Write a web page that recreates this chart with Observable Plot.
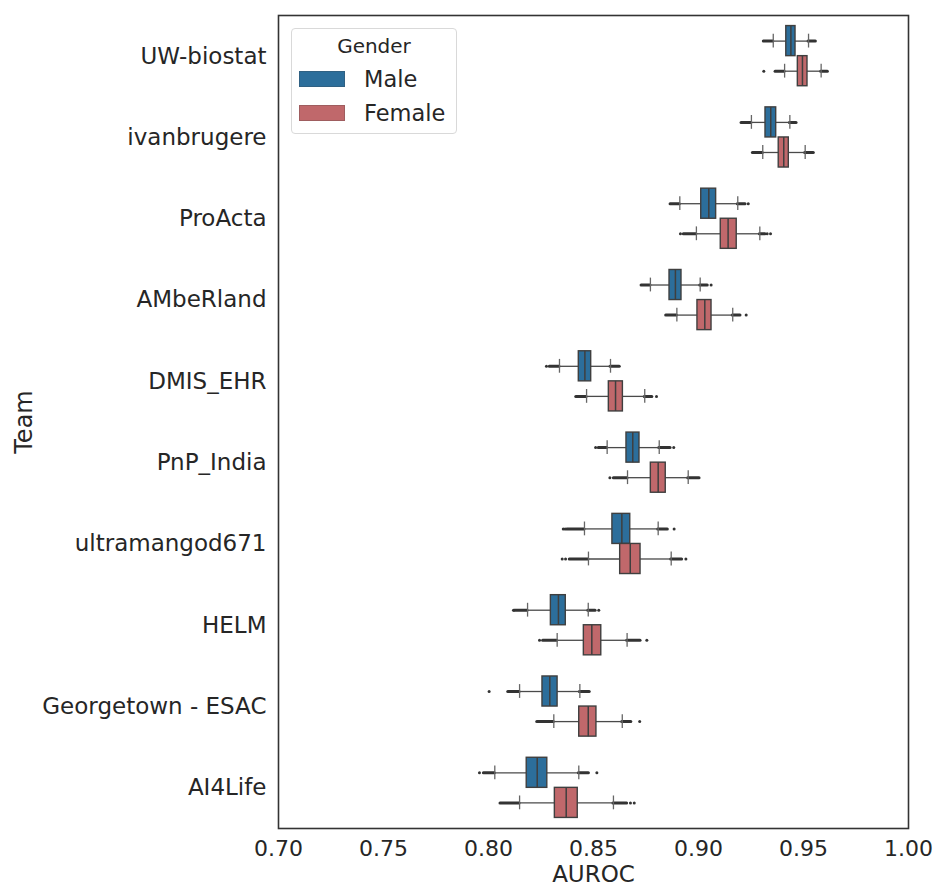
<!DOCTYPE html>
<html>
<head>
<meta charset="utf-8">
<script src="https://cdn.jsdelivr.net/npm/d3@7"></script>
<script src="https://cdn.jsdelivr.net/npm/@observablehq/plot@0.6"></script>
<style>
  html, body { margin: 0; padding: 0; background: #fff; }
  #wrap { position: relative; width: 938px; height: 890px; font-family: "DejaVu Sans", sans-serif; color: #262626; }
  #legend { position: absolute; left: 291px; top: 28px; width: 166px; height: 106px; border: 1px solid #d9d9d9; border-radius: 4px; background: rgba(255,255,255,0.85); box-sizing: border-box; }
  #legend .title { position: absolute; left: 0; width: 100%; top: 5px; text-align: center; font-size: 20px; line-height: 24px; }
  #legend .row { position: absolute; left: 7px; height: 24px; display: flex; align-items: center; font-size: 22.5px; }
  #legend .sw { width: 46px; height: 16px; margin-right: 19px; box-sizing: border-box; border: 1px solid rgba(60,60,60,0.25); }
</style>
</head>
<body>
<div id="wrap"></div>
<script>
const teams = ["UW-biostat","ivanbrugere","ProActa","AMbeRland","DMIS_EHR","PnP_India","ultramangod671","HELM","Georgetown - ESAC","AI4Life"];
const genders = ["Male","Female"];
const genderColors = ["#2c6e9b","#c0686b"];
const xTicks = [0.70,0.75,0.80,0.85,0.90,0.95,1.00];

// per box, team order, Male then Female
const q1       = [.9418,.9473, .9319,.9382, .9013,.9106, .8862,.8995, .8430,.8573, .8657,.8773, .8590,.8627, .8297,.8454, .8257,.8432, .8182,.8316];
const median   = [.9440,.9495, .9344,.9406, .9049,.9141, .8890,.9030, .8459,.8605, .8687,.8808, .8635,.8675, .8333,.8492, .8292,.8475, .8232,.8370];
const q3       = [.9462,.9519, .9370,.9430, .9084,.9182, .8919,.9062, .8489,.8640, .8719,.8844, .8675,.8724, .8368,.8537, .8329,.8514, .8280,.8425];
const whiskerLo= [.9356,.9410, .9252,.9306, .8911,.8990, .8771,.8897, .8338,.8467, .8565,.8662, .8457,.8476, .8186,.8327, .8148,.8311, .8030,.8148];
const whiskerHi= [.9524,.9584, .9435,.9508, .9187,.9292, .9008,.9163, .8581,.8744, .8813,.8951, .8808,.8870, .8475,.8660, .8435,.8637, .8430,.8595];
const denseLo  = [.9311,.9367, .9205,.9259, .8867,.8930, .8729,.8846, .8292,.8418, .8525,.8597, .8375,.8387, .8125,.8260, .8094,.8232, .7978,.8057];
const denseHi  = [.9559,.9616, .9467,.9549, .9224,.9319, .9044,.9200, .8625,.8780, .8867,.9005, .8854,.8922, .8510,.8724, .8482,.8680, .8478,.8660];

// sparse outliers
const outlierTeam   = ["UW-biostat","ProActa","ProActa","ProActa","ProActa","AMbeRland","AMbeRland","DMIS_EHR","DMIS_EHR","PnP_India","PnP_India","PnP_India","ultramangod671","ultramangod671","ultramangod671","ultramangod671","ultramangod671","ultramangod671","HELM","HELM","HELM","HELM","Georgetown - ESAC","Georgetown - ESAC","AI4Life","AI4Life","AI4Life","AI4Life"];
const outlierGender = ["Female","Male","Female","Female","Female","Male","Female","Male","Female","Male","Male","Female","Male","Male","Male","Female","Female","Female","Male","Male","Female","Female","Male","Female","Male","Male","Female","Female"];
const outlierValue  = [.9311,.9237,.8914,.9327,.9343,.9060,.9227,.8276,.8800,.8510,.8882,.8578,.8356,.8365,.8884,.8351,.8367,.8940,.8119,.8525,.8243,.8754,.8003,.8720,.7957,.8516,.8676,.8694];

const HALF = 0.185;   // half box height in band units
const CAP = 0.085;    // half whisker-cap height
const center = (team, gender) => teams.indexOf(team) + (gender === "Male" ? -HALF : HALF);

const boxes = [];
teams.forEach((t, i) => genders.forEach((g, j) => {
  const k = i * 2 + j;
  boxes.push({team: t, gender: g, yc: center(t, g), q1: q1[k], med: median[k], q3: q3[k],
    wlo: whiskerLo[k], whi: whiskerHi[k], dlo: denseLo[k], dhi: denseHi[k]});
}));
const outliers = outlierValue.map((v, k) => ({value: v, yc: center(outlierTeam[k], outlierGender[k])}));

const edge = "#3f3f3f";
const chart = Plot.plot({
  width: 938, height: 890,
  marginLeft: 278, marginRight: 30, marginTop: 15, marginBottom: 62,
  style: {fontFamily: "DejaVu Sans, sans-serif", color: "#262626", background: "#fff"},
  x: {domain: [0.70, 1.00]},
  y: {domain: [-0.5, 9.5], reverse: true},
  color: {domain: genders, range: genderColors},
  marks: [
    // dense outlier clusters
    Plot.ruleY(boxes, {y: "yc", x1: "dlo", x2: "wlo", stroke: "#333", strokeWidth: 3, strokeLinecap: "round"}),
    Plot.ruleY(boxes, {y: "yc", x1: "whi", x2: "dhi", stroke: "#333", strokeWidth: 3, strokeLinecap: "round"}),
    Plot.dot(outliers, {x: "value", y: "yc", r: 1.5, fill: "#333", stroke: null}),
    // whiskers
    Plot.ruleY(boxes, {y: "yc", x1: "wlo", x2: "q1", stroke: "#4a4a4a", strokeWidth: 1.3}),
    Plot.ruleY(boxes, {y: "yc", x1: "q3", x2: "whi", stroke: "#4a4a4a", strokeWidth: 1.3}),
    Plot.ruleX(boxes, {x: "wlo", y1: d => d.yc - CAP, y2: d => d.yc + CAP, stroke: "#666", strokeWidth: 1.3}),
    Plot.ruleX(boxes, {x: "whi", y1: d => d.yc - CAP, y2: d => d.yc + CAP, stroke: "#666", strokeWidth: 1.3}),
    // boxes
    Plot.rectX(boxes, {x1: "q1", x2: "q3", y1: d => d.yc - HALF, y2: d => d.yc + HALF, fill: "gender", stroke: edge, strokeWidth: 1.4}),
    Plot.ruleX(boxes, {x: "med", y1: d => d.yc - HALF, y2: d => d.yc + HALF, stroke: edge, strokeWidth: 1.5}),
    Plot.frame({stroke: "#333", strokeWidth: 1.6}),
    Plot.axisX({ticks: xTicks, tickFormat: d3.format(".2f"), tickSize: 0, tickPadding: 12, fontSize: 22, label: null}),
    Plot.axisX({ticks: [], label: "AUROC", labelAnchor: "center", labelOffset: 53, labelArrow: "none", fontSize: 23}),
    Plot.axisY({ticks: d3.range(teams.length), tickFormat: i => teams[i], tickSize: 0, tickPadding: 12, fontSize: 23, label: null}),
    Plot.axisY({ticks: [], label: "Team", labelAnchor: "center", labelOffset: 264, labelArrow: "none", fontSize: 24})
  ]
});

const wrap = document.getElementById("wrap");
wrap.appendChild(chart);

const legend = document.createElement("div");
legend.id = "legend";
legend.innerHTML = `<div class="title">Gender</div>` +
  genders.map((g, j) => `<div class="row" style="top:${38 + j * 34}px"><div class="sw" style="background:${genderColors[j]}"></div>${g}</div>`).join("");
wrap.appendChild(legend);
</script>
</body>
</html>
